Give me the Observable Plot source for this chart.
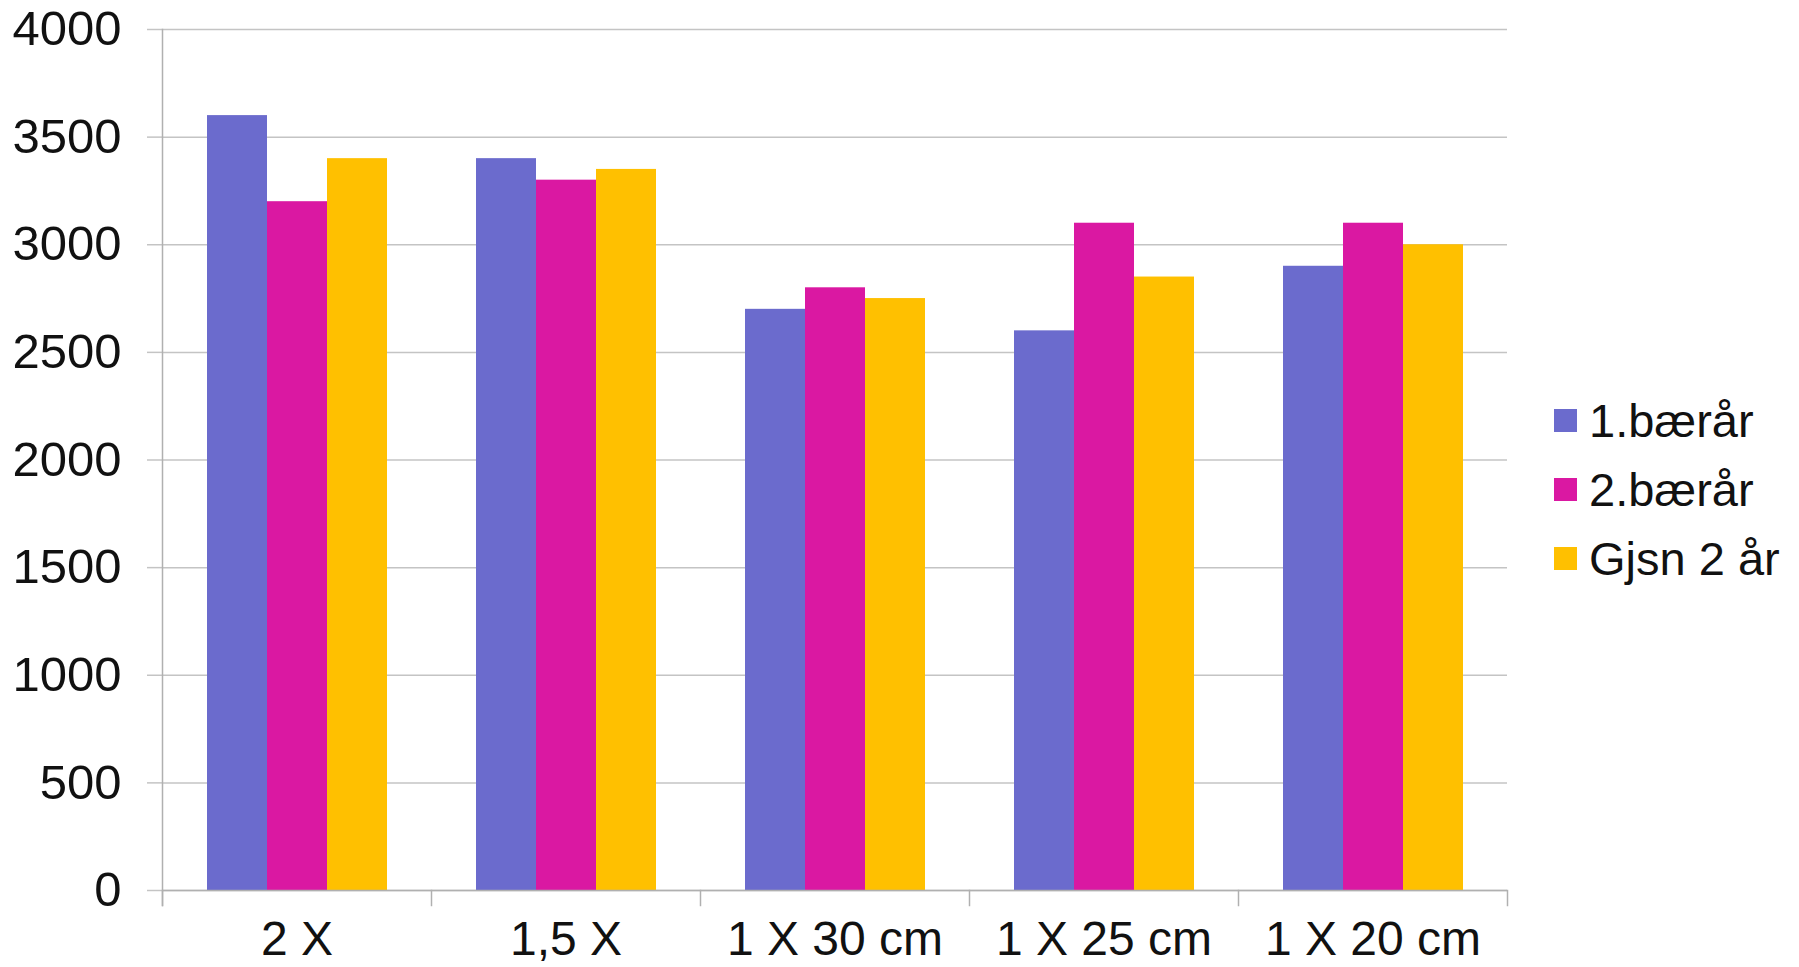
<!DOCTYPE html>
<html><head><meta charset="utf-8">
<script src="https://cdn.jsdelivr.net/npm/d3@7"></script>
<script src="https://cdn.jsdelivr.net/npm/@observablehq/plot@0.6"></script>
<style>
body{margin:0;background:#fff;font-family:"Liberation Sans",Arial,sans-serif;}
#wrap{position:relative;width:1799px;height:967px;overflow:hidden;background:#fff}
#legend{position:absolute;left:1554px;top:386px;}
.item{display:flex;align-items:center;height:69px;font-size:47px;color:#111;white-space:nowrap}
.sw{width:23px;height:23px;margin-right:12px;flex:none}
</style></head>
<body><div id="wrap"><div id="chart"></div><div id="legend"></div></div>
<script>
const categories = ["2 X", "1,5 X", "1 X 30 cm", "1 X 25 cm", "1 X 20 cm"];
const seriesNames = ["1.bærår", "2.bærår", "Gjsn 2 år"];
const serie1 = [3600, 3400, 2700, 2600, 2900];
const serie2 = [3200, 3300, 2800, 3100, 3100];
const serie3 = [3400, 3350, 2750, 2850, 3000];
const colors = ["#6b6bcd", "#da18a2", "#ffc000"];
const yTicks = [0, 500, 1000, 1500, 2000, 2500, 3000, 3500, 4000];

const seriesValues = [serie1, serie2, serie3];
const data = [];
categories.forEach((c, i) => seriesNames.forEach((s, j) => data.push({category: c, series: s, value: seriesValues[j][i]})));

const axisGray = "#b0b0b0";
const plot = Plot.plot({
  width: 1799, height: 967,
  marginLeft: 161, marginRight: 291, marginTop: 29, marginBottom: 77,
  style: {fontFamily: "'Liberation Sans', Arial, sans-serif", fontSize: "48px", color: "#111", background: "white", overflow: "visible"},
  fx: {domain: categories, padding: 0, label: null},
  x: {domain: seriesNames, paddingInner: 0, paddingOuter: 0.74, axis: null},
  y: {domain: [0, 4000], label: null},
  color: {domain: seriesNames, range: colors},
  marks: [
    Plot.gridY(yTicks, {stroke: "#c4c4c4", strokeOpacity: 1, strokeWidth: 1.5}),
    Plot.axisY(yTicks, {anchor: "left", tickSize: 15, tickPadding: 26, stroke: "#c4c4c4", strokeWidth: 1.5, strokeOpacity: 1, fontSize: 49, label: null, tickFormat: d => String(d)}),
    Plot.barY(data, {fx: "category", x: "series", y: "value", fill: "series", inset: 0}),
    Plot.ruleY([0], {stroke: axisGray, strokeWidth: 1.5}),
    Plot.frame({anchor: "left", facet: "super", stroke: axisGray, strokeWidth: 1.5, insetBottom: -15}),
    Plot.frame({anchor: "right", facet: "super", stroke: axisGray, strokeWidth: 1.5, insetTop: 861, insetBottom: -15}),
    Plot.frame({anchor: "left", stroke: axisGray, strokeWidth: 1.5, insetTop: 861, insetBottom: -15}),
    Plot.axisFx({anchor: "bottom", tickSize: 0, tickPadding: 30, fontSize: 48, label: null})
  ]
});
document.getElementById("chart").appendChild(plot);

const legend = document.getElementById("legend");
seriesNames.forEach((s, i) => {
  const it = document.createElement("div");
  it.className = "item";
  const sw = document.createElement("span");
  sw.className = "sw";
  sw.style.background = colors[i];
  const t = document.createElement("span");
  t.textContent = s;
  it.appendChild(sw); it.appendChild(t);
  legend.appendChild(it);
});
</script>
</body></html>
